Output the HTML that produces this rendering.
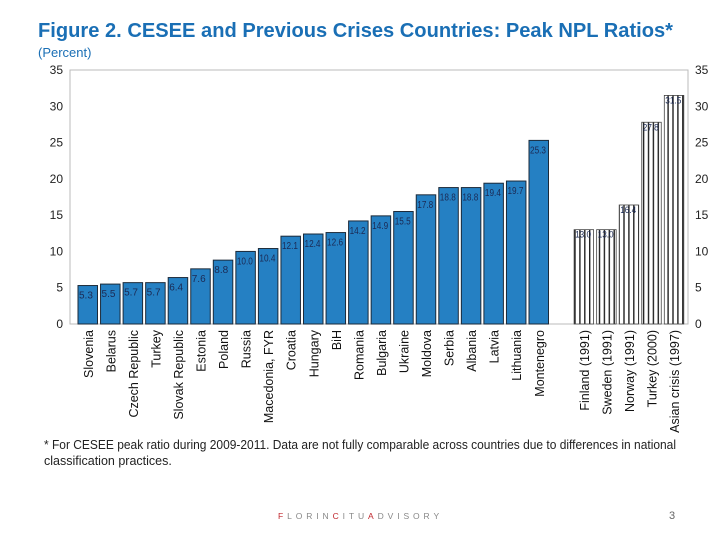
<!DOCTYPE html>
<html><head><meta charset="utf-8"><style>
html,body{margin:0;padding:0;background:#fff;}
svg{display:block;font-family:"Liberation Sans",sans-serif;}
</style></head><body>
<svg id="chart" width="720" height="540" viewBox="0 0 720 540" xmlns="http://www.w3.org/2000/svg">
<text x="38" y="37" font-size="20" font-weight="bold" fill="#1a6fb5" textLength="635" lengthAdjust="spacingAndGlyphs">Figure 2. CESEE and Previous Crises Countries: Peak NPL Ratios*</text>
<text x="38" y="57" font-size="13" fill="#1a6fb5">(Percent)</text>
<rect x="70" y="70" width="618" height="254" fill="none" stroke="#bbb" stroke-width="1"/>
<g id="axes"></g>
<g id="bars"></g>
<text x="44" y="449" font-size="12.5" fill="#222" textLength="632" lengthAdjust="spacingAndGlyphs">* For CESEE peak ratio during 2009-2011. Data are not fully comparable across countries due to differences in national</text>
<text x="44" y="465" font-size="12.5" fill="#222">classification practices.</text>
<text x="278" y="519" font-size="8.5" fill="#888" letter-spacing="3.9"><tspan fill="#c0272d">F</tspan>LORIN<tspan fill="#c0272d">C</tspan>ITU<tspan fill="#c0272d">A</tspan>DVISORY</text>
<text x="669" y="519" font-size="11" fill="#666">3</text>
</svg>
<script>
const categories = ["Slovenia","Belarus","Czech Republic","Turkey","Slovak Republic","Estonia","Poland","Russia","Macedonia, FYR","Croatia","Hungary","BiH","Romania","Bulgaria","Ukraine","Moldova","Serbia","Albania","Latvia","Lithuania","Montenegro","","Finland (1991)","Sweden (1991)","Norway (1991)","Turkey (2000)","Asian crisis (1997)"];
const values = [5.3,5.5,5.7,5.7,6.4,7.6,8.8,10.0,10.4,12.1,12.4,12.6,14.2,14.9,15.5,17.8,18.8,18.8,19.4,19.7,25.3,null,13.0,13.0,16.4,27.8,31.5];
const previousCrisis = [0,0,0,0,0,0,0,0,0,0,0,0,0,0,0,0,0,0,0,0,0,0,1,1,1,1,1];
const yTicks = [0,5,10,15,20,25,30,35];
const NS="http://www.w3.org/2000/svg";
const y0=324, pxPerUnit=254/35, x0=78, pitch=22.55, bw=19.5;
const yS=v=>y0-v*pxPerUnit;
const xS=i=>x0+i*pitch;
function mk(tag,attrs,parent){const e=document.createElementNS(NS,tag);for(const k in attrs)e.setAttribute(k,attrs[k]);parent.appendChild(e);return e;}
const axes=document.getElementById('axes'), bars=document.getElementById('bars');
const svg=document.getElementById('chart');
const defs=mk('defs',{},svg);
const pat=mk('pattern',{id:'stripes',patternUnits:'userSpaceOnUse',x:1,width:4.9,height:4},defs);
mk('rect',{x:0,y:0,width:4.9,height:4,fill:'#fff'},pat);
mk('rect',{x:0,y:0,width:1.4,height:4,fill:'#222'},pat);
yTicks.forEach(t=>{
  const l=mk('text',{x:63,y:yS(t)+4,'font-size':12,'text-anchor':'end',fill:'#222'},axes);
  l.textContent=t;
  
  
  const r=mk('text',{x:695,y:yS(t)+4,'font-size':12,fill:'#222'},axes);
  r.textContent=t;
  
  
});
values.forEach((v,i)=>{
  const name=categories[i];
  if(v!==null){
    const x=xS(i);
    const striped=previousCrisis[i]===1;
    const b=mk('rect',{x:x,y:yS(v),width:bw,height:y0-yS(v),fill:striped?'url(#stripes)':'#2580c3',stroke:striped?'#444':'#1b2a3a','stroke-width':striped?0.8:1},bars);
    
    
    const txt=v.toFixed(1);
    const attrs={x:x+1,y:yS(v)+(striped?8:13),'font-size':striped?9:10,fill:'#1b2a55'};
    if(txt.length>3){attrs.textLength=16;attrs.lengthAdjust='spacingAndGlyphs';}
    const lab=mk('text',attrs,bars);
    lab.textContent=txt;
    
    
  }
  if(name){
    const cx=xS(i)+bw/2+5;
    const t=mk('text',{x:cx,y:330,'font-size':12.5,'text-anchor':'end',fill:'#111',transform:`rotate(-90 ${cx} 330)`},axes);
    t.textContent=name;
    
    
  }
});
</script>
</body></html>
